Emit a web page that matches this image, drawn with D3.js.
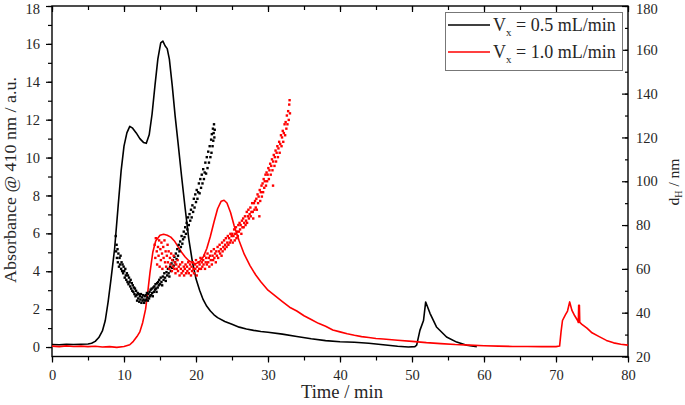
<!DOCTYPE html>
<html><head><meta charset="utf-8">
<script src="https://cdn.jsdelivr.net/npm/d3@7"></script>
<style>html,body{margin:0;padding:0;background:#fff;}</style></head>
<body><svg id="c" width="685" height="405"></svg>
<script>
// ---- data ----
const xTicks = [0,10,20,30,40,50,60,70,80];
const yLeftTicks = [0,2,4,6,8,10,12,14,16,18];
const yRightTicks = [20,40,60,80,100,120,140,160,180];
const seriesNames = ["0.5 mL/min","1.0 mL/min"];

// absorbance, Vx = 0.5 mL/min  [time, absorbance]
const absBlack = [[0,0.13],[1,0.12],[2,0.14],[3,0.13],[4,0.15],[5,0.16],[5.5,0.2],[6,0.3],[6.5,0.5],[7,0.85],[7.4,1.4],[7.8,2.4],[8.2,3.6],[8.7,5.2],[9.2,7.5],[9.6,9.3],[10,10.6],[10.4,11.3],[10.8,11.65],[11.2,11.55],[11.7,11.3],[12.2,11.0],[12.7,10.8],[13.1,10.75],[13.5,11.2],[13.9,12.3],[14.3,13.8],[14.7,15.2],[15.1,16.05],[15.4,16.15],[15.7,15.9],[16.0,15.75],[16.3,15.2],[16.7,13.8],[17.1,12.2],[17.5,10.8],[18.0,9.0],[18.5,7.3],[19.0,5.7],[19.5,4.5],[20.0,3.6],[20.5,3.0],[21,2.5],[21.5,2.15],[22,1.9],[22.5,1.7],[23,1.55],[24,1.35],[25,1.2],[26,1.05],[27,0.95],[28,0.88],[29,0.82],[30,0.78],[32,0.68],[34,0.56],[36,0.44],[38,0.34],[40,0.28],[42,0.25],[44,0.2],[46,0.12],[48,0.04],[49.5,0.0],[50.4,0.02],[50.65,0.1],[51.1,0.88],[51.6,1.4],[51.9,2.38],[52.5,1.78],[53.4,1.06],[54.8,0.53],[56.2,0.26],[57.6,0.09],[59,0.02]];

// absorbance, Vx = 1.0 mL/min
const absRed = [[0,0.05],[1,0.02],[2,0.06],[3,0.03],[4,0.05],[5,0.02],[6,0.04],[7,0.0],[8,0.02],[9,-0.02],[10,0.03],[10.8,0.12],[11.3,0.3],[11.8,0.55],[12.2,0.8],[12.6,1.3],[13,2.0],[13.3,2.9],[13.6,3.9],[14,5.0],[14.4,5.6],[15,5.9],[15.5,5.95],[16,5.9],[16.5,5.8],[17,5.6],[17.5,5.3],[18,5.0],[18.5,4.75],[19,4.55],[19.5,4.45],[20,4.4],[20.5,4.5],[21,4.75],[21.5,5.2],[22,5.85],[22.5,6.6],[23,7.3],[23.5,7.7],[23.9,7.75],[24.3,7.6],[24.8,7.1],[25.3,6.4],[26,5.6],[26.7,4.9],[27.5,4.3],[28.3,3.8],[29,3.45],[30,3.0],[31,2.7],[32,2.4],[33,2.1],[34,1.9],[35,1.65],[36,1.45],[37,1.25],[38,1.1],[39,0.9],[40,0.8],[41,0.7],[42,0.62],[43,0.55],[44,0.5],[45,0.45],[46,0.42],[48,0.36],[50,0.3],[52,0.23],[54,0.18],[56,0.13],[58,0.1],[60,0.07],[62,0.05],[64,0.03],[66,0.03],[68,0.02],[70,0.02],[70.5,0.05],[70.7,0.8],[70.9,1.4],[71.3,1.7],[71.6,1.9],[71.9,2.38],[72.2,1.95],[72.6,1.65],[73.0,1.4],[73.1,1.3],[73.15,2.2],[73.25,2.2],[73.3,1.3],[73.6,1.2],[74.3,1.0],[75,0.75],[76,0.55],[77,0.35],[78,0.22],[79,0.15],[80,0.1]];

// hydrodynamic diameter, Vx = 0.5 mL/min  [time, dH]
const dhBlack = [[8.85,75],[8.9,68],[8.97,71],[9.02,65],[9.1,69],[9.15,63],[9.22,67],[9.3,61],[9.38,65],[9.45,62],[9.52,66],[9.6,60],[9.66,63],[9.74,59],[9.8,62],[9.88,58],[9.95,61],[10.03,59],[10.1,56],[10.18,60],[10.25,57],[10.32,55],[10.4,58],[10.48,54],[10.55,57],[10.62,53],[10.7,56],[10.78,54],[10.85,52],[10.92,55],[11.0,51],[11.08,53.5],[11.15,50],[11.22,52.5],[11.3,49.5],[11.38,51.5],[11.45,48.5],[11.52,51],[11.6,47.5],[11.68,50],[11.75,48],[11.82,45.5],[11.9,49],[11.98,46.5],[12.05,48.5],[12.12,45],[12.2,47.5],[12.28,46],[12.35,48.5],[12.42,44.5],[12.5,47],[12.58,45.5],[12.65,48],[12.72,46],[12.8,44.5],[12.88,47.5],[12.95,45.5],[13.02,48],[13.1,46],[13.18,49],[13.25,47],[13.32,45.5],[13.4,48.5],[13.48,46.5],[13.55,49.5],[13.62,47.5],[13.7,50.5],[13.78,48],[13.85,51],[13.92,49],[14.0,47.5],[14.08,51.5],[14.15,49.5],[14.22,52],[14.3,50.5],[14.38,53],[14.45,51],[14.52,49.5],[14.6,53.5],[14.68,51.5],[14.75,54],[14.82,52.5],[14.9,55],[15.0,53],[15.1,56],[15.2,54],[15.3,52.5],[15.4,56.5],[15.5,55],[15.6,58],[15.7,56],[15.8,54.5],[15.9,58.5],[16.0,57],[16.1,60],[16.2,58],[16.3,56.5],[16.4,61],[16.5,59],[16.6,62.5],[16.7,60.5],[16.8,64],[16.9,61.5],[17.0,65.5],[17.1,63],[17.2,67],[17.3,64.5],[17.4,69],[17.5,66],[17.6,71],[17.7,68],[17.8,72.5],[17.9,70],[18.0,75],[18.1,71.5],[18.2,73.5],[18.3,77],[18.4,74.5],[18.5,79],[18.6,76],[18.7,81],[18.8,78],[18.9,83.5],[19.0,80],[19.1,85],[19.2,82],[19.3,87],[19.4,83.5],[19.5,89],[19.6,86],[19.7,92],[19.8,88],[19.9,94],[20.0,90.5],[20.1,96],[20.2,92],[20.3,95],[20.4,99],[20.5,94.5],[20.6,101],[20.7,97],[20.8,103],[20.9,99],[21.0,105.5],[21.1,101],[21.2,104],[21.3,108.5],[21.4,103.5],[21.5,111],[21.6,106],[21.7,113.5],[21.8,108.5],[21.9,116],[22.0,111],[22.1,119],[22.15,113],[22.2,121.5],[22.3,116],[22.35,124],[22.4,118.5],[22.45,122],[22.5,126],[22.55,120],[22.6,123.5]];

// hydrodynamic diameter, Vx = 1.0 mL/min
const dhRed = [[14.25,71],[14.35,65],[14.42,74],[14.55,68],[14.6,62],[14.72,70],[14.8,66],[14.88,73],[14.95,61],[15.05,69],[15.12,64],[15.2,72],[15.28,67],[15.33,60],[15.45,70],[15.5,65],[15.62,73],[15.7,63],[15.78,68],[15.85,61],[15.95,66],[16.05,71],[16.1,63],[16.2,68],[16.3,60],[16.38,65],[16.45,62],[16.55,67],[16.65,59],[16.7,64],[16.82,61],[16.9,66],[17.0,60],[17.05,63],[17.15,58],[17.25,62],[17.32,60],[17.45,64],[17.5,59],[17.6,61],[17.72,57],[17.8,62],[17.9,60],[18.0,58],[18.08,63],[18.2,59],[18.3,61],[18.35,57],[18.45,60],[18.55,62],[18.62,58],[18.75,61],[18.8,59],[18.92,63],[19.0,58],[19.1,60],[19.18,62],[19.3,57],[19.38,61],[19.45,59],[19.55,63],[19.65,60],[19.72,58],[19.85,62],[19.9,60],[20.0,64],[20.1,57],[20.15,61],[20.25,59],[20.35,63],[20.45,60],[20.5,62],[20.62,65],[20.7,60],[20.8,63],[20.88,61],[21.0,64],[21.05,62],[21.15,66],[21.25,60],[21.35,63],[21.42,65],[21.5,62],[21.6,67],[21.7,63],[21.78,65],[21.85,61],[21.95,66],[22.05,64],[22.12,68],[22.2,62],[22.3,66],[22.38,64],[22.48,69],[22.55,65],[22.65,67],[22.75,63],[22.82,68],[22.9,66],[23.0,70],[23.08,65],[23.2,68],[23.28,71],[23.35,67],[23.45,69],[23.55,66],[23.62,72],[23.7,68],[23.8,70],[23.9,73],[24.0,69],[24.05,71],[24.15,74],[24.25,70],[24.35,72],[24.42,75],[24.5,71],[24.6,74],[24.7,72],[24.78,76],[24.85,73],[24.95,75],[25.05,76],[25.1,72],[25.2,75],[25.3,78],[25.38,73],[25.45,76],[25.55,79],[25.62,74],[25.7,77],[25.8,75],[25.88,80],[25.95,77],[26.05,81],[26.12,78],[26.2,80],[26.3,76],[26.38,82],[26.45,79],[26.55,83],[26.62,79],[26.7,81],[26.8,84],[26.88,80],[26.95,82],[27.05,86],[27.1,81],[27.2,84],[27.28,87],[27.35,83],[27.45,85],[27.55,88],[27.6,84],[27.7,86],[27.8,90],[27.88,86],[27.95,83],[28.05,90],[28.12,87],[28.2,91],[28.3,88],[28.38,92],[28.45,87],[28.55,94],[28.62,90],[28.7,93],[28.8,84],[28.85,96],[28.92,91],[29.0,95],[29.1,98],[29.15,93],[29.25,99],[29.32,95],[29.4,101],[29.48,97],[29.55,100],[29.65,103],[29.72,98],[29.8,104],[29.88,100],[29.95,103],[30.05,106],[30.12,101],[30.2,105],[30.3,108],[30.38,103],[30.45,107],[30.55,110],[30.62,105],[30.7,98],[30.72,109],[30.8,112],[30.9,107],[30.95,111],[31.05,114],[31.12,109],[31.2,113],[31.3,116],[31.38,111],[31.45,115],[31.55,118],[31.62,113],[31.7,117],[31.8,121],[31.88,116],[31.95,120],[32.05,123],[32.12,118],[32.2,122],[32.3,126],[32.38,121],[32.45,127],[32.55,124],[32.62,130],[32.7,126],[32.8,132],[32.88,128],[32.95,135],[33.0,137],[33.05,131]];

// ---- chart ----
const svg = d3.select("#c");
const L = 52, R = 628, T = 6, B = 356.5;
const x = d3.scaleLinear().domain([0,80]).range([L,R]);
const yL = d3.scaleLinear().domain([-0.5,18]).range([B,T]);
const yR = d3.scaleLinear().domain([20,180]).range([B,T]);
const colors = ["#000000","#ff0000"];
const fs = 14.5;
const serif = "Liberation Serif";
const txtCol = "#262626";

// frame
svg.append("rect").attr("x",L).attr("y",T).attr("width",R-L).attr("height",B-T)
  .attr("fill","none").attr("stroke","#000").attr("stroke-width",1.4);

// bottom axis (outward)
svg.append("g").attr("transform",`translate(0,${B})`)
  .call(d3.axisBottom(x).tickValues(d3.range(0,81,5)).tickSize(4).tickFormat(""));
svg.append("g").attr("transform",`translate(0,${B})`)
  .call(d3.axisBottom(x).tickValues(xTicks).tickSize(6).tickPadding(7).tickFormat(d3.format("d")));
// top axis (inward)
svg.append("g").attr("transform",`translate(0,${T})`)
  .call(d3.axisBottom(x).tickValues(d3.range(0,81,5)).tickSize(4).tickFormat(""));
svg.append("g").attr("transform",`translate(0,${T})`)
  .call(d3.axisBottom(x).tickValues(xTicks).tickSize(6).tickFormat(""));
// left axis (outward)
svg.append("g").attr("transform",`translate(${L},0)`)
  .call(d3.axisLeft(yL).tickValues(d3.range(0,19,1)).tickSize(4).tickFormat(""));
const gL = svg.append("g").attr("transform",`translate(${L},0)`)
  .call(d3.axisLeft(yL).tickValues(yLeftTicks).tickSize(6).tickPadding(6).tickFormat(d3.format("d")));
// right axis (inward ticks, labels outside)
svg.append("g").attr("transform",`translate(${R},0)`)
  .call(d3.axisLeft(yR).tickValues(d3.range(20,181,10)).tickSize(3).tickFormat(""));
svg.append("g").attr("transform",`translate(${R},0)`)
  .call(d3.axisLeft(yR).tickValues(yRightTicks).tickSize(6).tickFormat(""));
const gR = svg.append("g").attr("transform",`translate(${R},0)`)
  .call(d3.axisRight(yR).tickValues(yRightTicks).tickSize(0).tickPadding(8).tickFormat(d3.format("d")));

svg.selectAll(".domain").remove();
svg.selectAll("g").attr("font-family",serif);
svg.selectAll(".tick line").attr("stroke","#000").attr("stroke-width",1.2);
svg.selectAll(".tick text").attr("font-size",fs).attr("font-family",serif).attr("fill",txtCol);
// keep the topmost labels inside the picture
gL.selectAll(".tick text").filter(d=>d===18).attr("dy","0.5em");
gR.selectAll(".tick text").filter(d=>d===180).attr("dy","0.5em");

// lines
const line = d3.line().x(d=>x(d[0])).y(d=>yL(d[1]));
svg.append("path").datum(absBlack).attr("d",line).attr("fill","none")
  .attr("stroke",colors[0]).attr("stroke-width",1.6).attr("stroke-linejoin","round");
svg.append("path").datum(absRed).attr("d",line).attr("fill","none")
  .attr("stroke",colors[1]).attr("stroke-width",1.6).attr("stroke-linejoin","round");

// scatter
const s = 2.4;
[[dhBlack,colors[0]],[dhRed,colors[1]]].forEach(([data,c])=>{
  svg.append("g").selectAll("rect").data(data).join("rect")
    .attr("x",d=>x(d[0])-s/2).attr("y",d=>yR(d[1])-s/2)
    .attr("width",s).attr("height",s).attr("fill",c);
});

// axis titles
svg.append("text").attr("x",(L+R)/2+2).attr("y",398).attr("text-anchor","middle")
  .attr("font-family",serif).attr("font-size",18).attr("fill",txtCol)
  .attr("textLength",82).attr("lengthAdjust","spacingAndGlyphs").text("Time / min");
svg.append("text").attr("transform",`translate(16,180) rotate(-90)`)
  .attr("text-anchor","middle").attr("font-family",serif).attr("font-size",17).attr("fill",txtCol)
  .attr("textLength",206).attr("lengthAdjust","spacingAndGlyphs").text("Absorbance @ 410 nm / a.u.");
const rt = svg.append("text").attr("transform",`translate(679,182) rotate(-90)`)
  .attr("text-anchor","middle").attr("font-family",serif).attr("font-size",15.5).attr("fill",txtCol);
rt.append("tspan").text("d");
rt.append("tspan").attr("font-size",10).attr("dy",3).text("H");
rt.append("tspan").attr("dy",-3).text(" / nm");

// legend
const lg = svg.append("g");
lg.append("rect").attr("x",445.5).attr("y",12.5).attr("width",177).attr("height",58)
  .attr("fill","#fff").attr("stroke","#777").attr("stroke-width",1);
seriesNames.forEach((n,i)=>{
  const yy = 25 + i*27;
  lg.append("line").attr("x1",448).attr("x2",490).attr("y1",yy).attr("y2",yy)
    .attr("stroke",colors[i]).attr("stroke-width",1.6);
  const t = lg.append("text").attr("x",493).attr("y",yy+6).attr("font-size",18)
    .attr("font-family",serif).attr("fill",txtCol);
  t.append("tspan").text("V");
  t.append("tspan").attr("font-size",11).attr("dy",5).text("x");
  t.append("tspan").attr("dy",-5).text(" = " + n);
});
</script></body></html>
